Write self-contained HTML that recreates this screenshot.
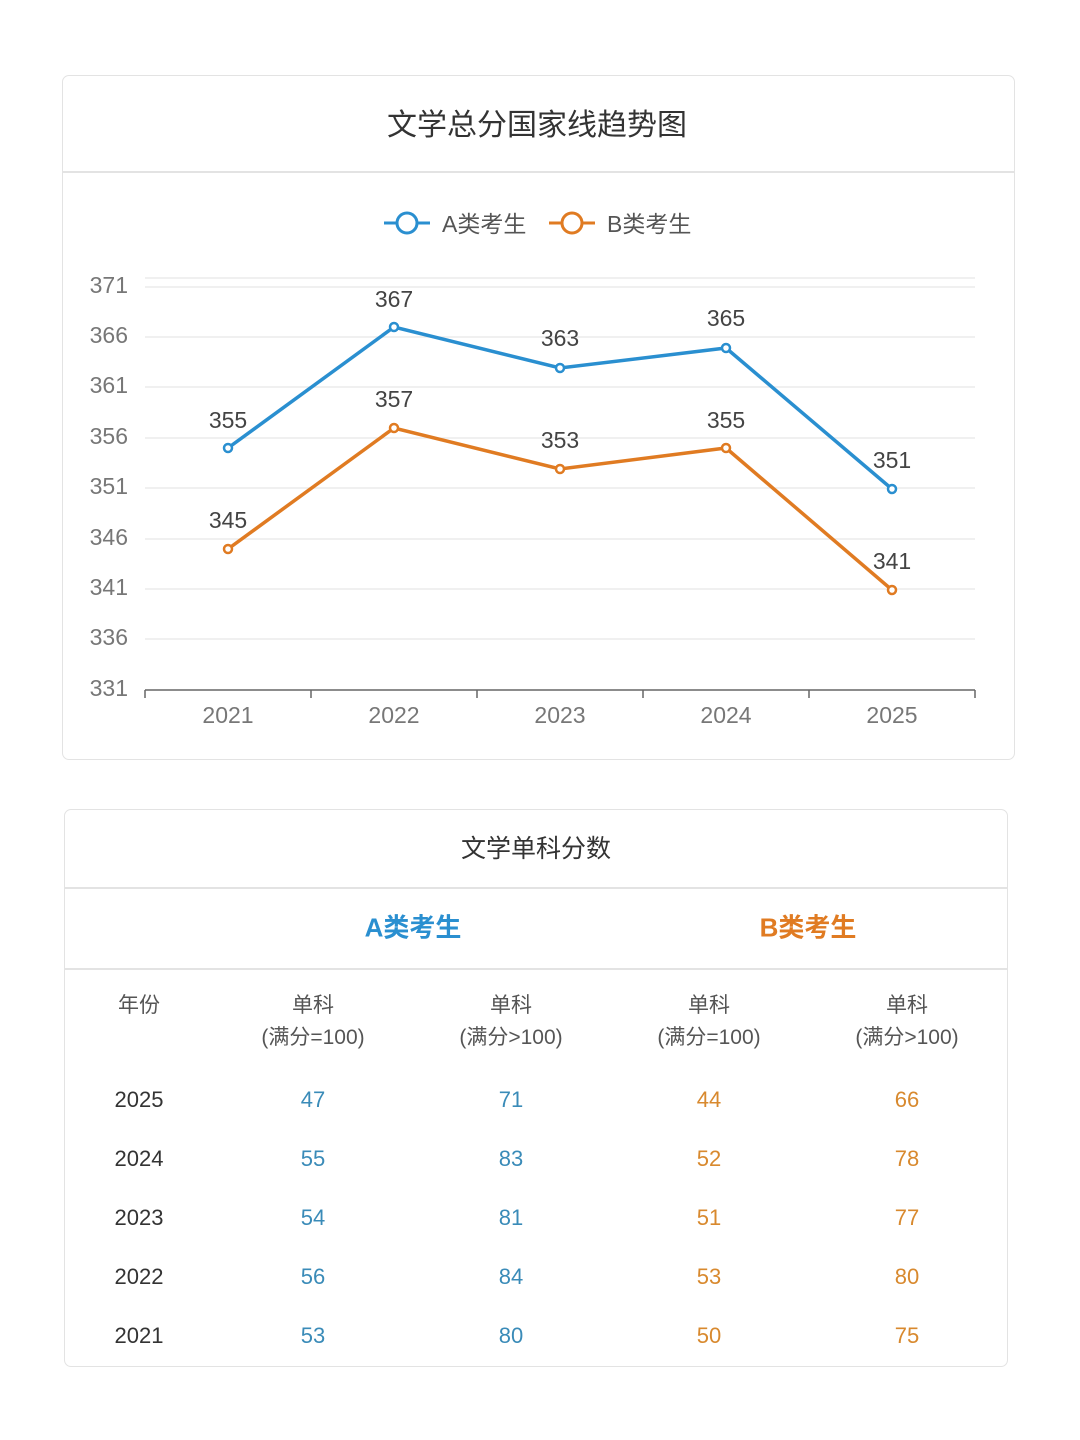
<!DOCTYPE html>
<html><head><meta charset="utf-8"><style>
body{margin:0;width:1080px;height:1440px;background:#fff;font-family:"Liberation Sans","Noto Sans CJK SC",sans-serif;position:relative;overflow:hidden}
.card{position:absolute;border:1.5px solid #e3e3e3;border-radius:7px;box-sizing:border-box}
.t{position:absolute;transform:translate(-50%,-50%);white-space:nowrap}
</style></head><body>
<div class="card" style="left:62px;top:75px;width:953px;height:685px"></div>
<div style="position:absolute;left:63px;top:171px;width:951px;height:1.5px;background:#e3e3e3"></div>
<div class="t" style="left:537px;top:122px;font-size:30px;color:#333">文学总分国家线趋势图</div>
<svg width="1080" height="1440" style="position:absolute;left:0;top:0" font-family="Liberation Sans, Noto Sans CJK SC, sans-serif">
<g stroke="#e6e6e6" stroke-width="1.2">
<line x1="145" x2="975" y1="278" y2="278"/>
<line x1="145" x2="975" y1="287" y2="287"/><line x1="145" x2="975" y1="337" y2="337"/><line x1="145" x2="975" y1="387" y2="387"/><line x1="145" x2="975" y1="438" y2="438"/><line x1="145" x2="975" y1="488" y2="488"/><line x1="145" x2="975" y1="539" y2="539"/><line x1="145" x2="975" y1="589" y2="589"/><line x1="145" x2="975" y1="639" y2="639"/>
</g>
<g stroke="#666" stroke-width="1.5"><line x1="145" x2="975" y1="690" y2="690"/>
<line x1="145" x2="145" y1="690" y2="698"/><line x1="311" x2="311" y1="690" y2="698"/><line x1="477" x2="477" y1="690" y2="698"/><line x1="643" x2="643" y1="690" y2="698"/><line x1="809" x2="809" y1="690" y2="698"/><line x1="975" x2="975" y1="690" y2="698"/></g>
<g font-size="23" fill="#777" text-anchor="end" dominant-baseline="middle">
<text x="128" y="287">371</text><text x="128" y="337">366</text><text x="128" y="387">361</text><text x="128" y="438">356</text><text x="128" y="488">351</text><text x="128" y="539">346</text><text x="128" y="589">341</text><text x="128" y="639">336</text><text x="128" y="690">331</text></g>
<g font-size="23" fill="#777" text-anchor="middle"><text x="228" y="723">2021</text><text x="394" y="723">2022</text><text x="560" y="723">2023</text><text x="726" y="723">2024</text><text x="892" y="723">2025</text></g>
<polyline points="228,448 394,327 560,368 726,348 892,489" fill="none" stroke="#2a8fd0" stroke-width="3.5"/>
<polyline points="228,549 394,428 560,469 726,448 892,590" fill="none" stroke="#e07b22" stroke-width="3.5"/>
<g fill="#fff" stroke="#2a8fd0" stroke-width="2.5"><circle cx="228" cy="448" r="4"/><circle cx="394" cy="327" r="4"/><circle cx="560" cy="368" r="4"/><circle cx="726" cy="348" r="4"/><circle cx="892" cy="489" r="4"/></g>
<g fill="#fff" stroke="#e07b22" stroke-width="2.5"><circle cx="228" cy="549" r="4"/><circle cx="394" cy="428" r="4"/><circle cx="560" cy="469" r="4"/><circle cx="726" cy="448" r="4"/><circle cx="892" cy="590" r="4"/></g>
<g font-size="23" fill="#444" text-anchor="middle">
<text x="228" y="428">355</text><text x="394" y="307">367</text><text x="560" y="346">363</text><text x="726" y="326">365</text><text x="892" y="468">351</text>
<text x="228" y="528">345</text><text x="394" y="407">357</text><text x="560" y="448">353</text><text x="726" y="428">355</text><text x="892" y="569">341</text></g>
<line x1="384" x2="430" y1="223" y2="223" stroke="#2a8fd0" stroke-width="3"/><circle cx="407" cy="223" r="10" fill="#fff" stroke="#2a8fd0" stroke-width="3"/>
<text x="442" y="232" font-size="23" fill="#555">A类考生</text>
<line x1="549" x2="595" y1="223" y2="223" stroke="#e07b22" stroke-width="3"/><circle cx="572" cy="223" r="10" fill="#fff" stroke="#e07b22" stroke-width="3"/>
<text x="607" y="232" font-size="23" fill="#555">B类考生</text>
</svg>
<div class="card" style="left:64px;top:809px;width:944px;height:558px"></div>
<div style="position:absolute;left:65px;top:887px;width:942px;height:1.5px;background:#e3e3e3"></div>
<div style="position:absolute;left:65px;top:968px;width:942px;height:1.5px;background:#e3e3e3"></div>
<div class="t" style="left:536px;top:847px;font-size:25px;color:#333">文学单科分数</div>
<div class="t" style="left:413px;top:926px;font-size:26px;font-weight:bold;color:#2a8fd0">A类考生</div>
<div class="t" style="left:808px;top:926px;font-size:26px;font-weight:bold;color:#e07b22">B类考生</div>
<div style="position:absolute;left:0;top:0;font-size:21px;color:#555">
<div class="t" style="left:139px;top:1004px">年份</div>
<div class="t" style="left:313px;top:1004px">单科</div><div class="t" style="left:313px;top:1036px">(满分=100)</div>
<div class="t" style="left:511px;top:1004px">单科</div><div class="t" style="left:511px;top:1036px">(满分&gt;100)</div>
<div class="t" style="left:709px;top:1004px">单科</div><div class="t" style="left:709px;top:1036px">(满分=100)</div>
<div class="t" style="left:907px;top:1004px">单科</div><div class="t" style="left:907px;top:1036px">(满分&gt;100)</div>
</div>
<div style="position:absolute;left:0;top:0;font-size:22px">
<div class="t" style="left:139px;top:1100px;color:#333">2025</div><div class="t" style="left:313px;top:1100px;color:#3a8bb8">47</div><div class="t" style="left:511px;top:1100px;color:#3a8bb8">71</div><div class="t" style="left:709px;top:1100px;color:#d8892e">44</div><div class="t" style="left:907px;top:1100px;color:#d8892e">66</div>
<div class="t" style="left:139px;top:1159px;color:#333">2024</div><div class="t" style="left:313px;top:1159px;color:#3a8bb8">55</div><div class="t" style="left:511px;top:1159px;color:#3a8bb8">83</div><div class="t" style="left:709px;top:1159px;color:#d8892e">52</div><div class="t" style="left:907px;top:1159px;color:#d8892e">78</div>
<div class="t" style="left:139px;top:1218px;color:#333">2023</div><div class="t" style="left:313px;top:1218px;color:#3a8bb8">54</div><div class="t" style="left:511px;top:1218px;color:#3a8bb8">81</div><div class="t" style="left:709px;top:1218px;color:#d8892e">51</div><div class="t" style="left:907px;top:1218px;color:#d8892e">77</div>
<div class="t" style="left:139px;top:1277px;color:#333">2022</div><div class="t" style="left:313px;top:1277px;color:#3a8bb8">56</div><div class="t" style="left:511px;top:1277px;color:#3a8bb8">84</div><div class="t" style="left:709px;top:1277px;color:#d8892e">53</div><div class="t" style="left:907px;top:1277px;color:#d8892e">80</div>
<div class="t" style="left:139px;top:1336px;color:#333">2021</div><div class="t" style="left:313px;top:1336px;color:#3a8bb8">53</div><div class="t" style="left:511px;top:1336px;color:#3a8bb8">80</div><div class="t" style="left:709px;top:1336px;color:#d8892e">50</div><div class="t" style="left:907px;top:1336px;color:#d8892e">75</div>
</div>
</body></html>
